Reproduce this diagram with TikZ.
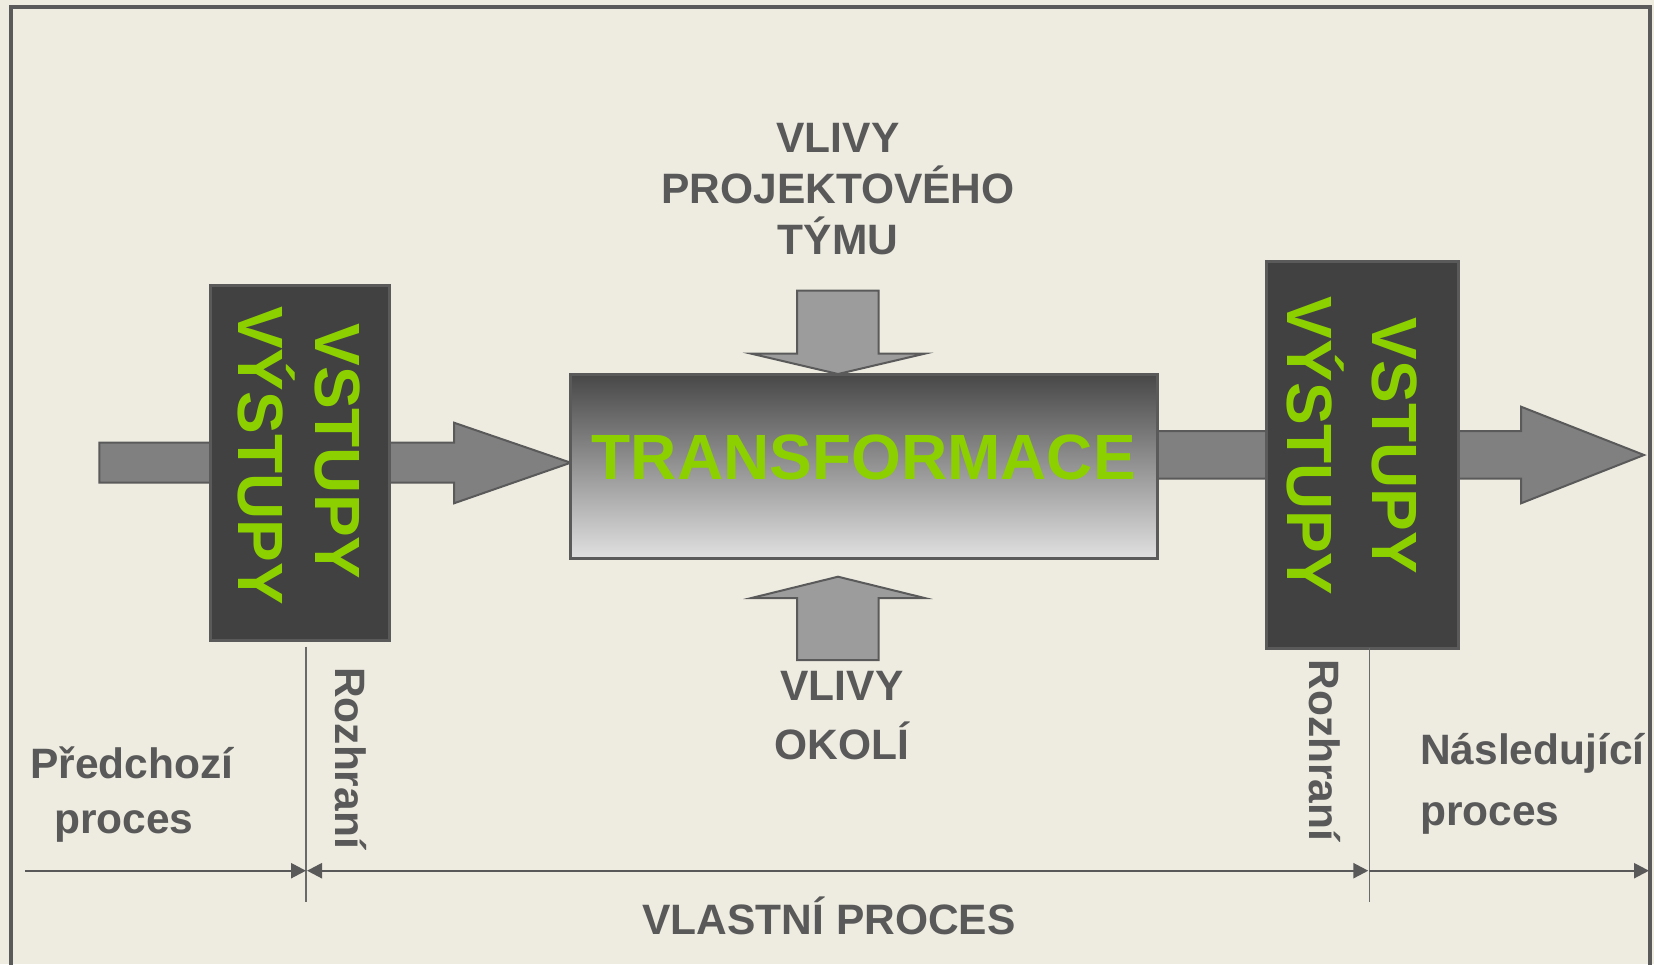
\documentclass[tikz,border=0pt]{standalone}
\usepackage{fontspec}
\setmainfont{Liberation Sans}
\usetikzlibrary{arrows.meta}
\definecolor{paper}{HTML}{EEECE1}
\definecolor{ink}{HTML}{595959}
\definecolor{lime}{HTML}{8CD000}
\definecolor{boxdark}{HTML}{414141}
\definecolor{flowgray}{HTML}{808080}
\definecolor{pushgray}{HTML}{9C9C9C}
\definecolor{edge}{HTML}{5A5A5A}
\definecolor{rule}{HTML}{6A6A6A}

\begin{document}
\begin{tikzpicture}[x=1pt,y=-1pt,
  label/.style={text=ink,inner sep=0pt},
  lbl/.style 2 args={font=\bfseries\fontsize{42.5}{#2}\selectfont},
  portbox/.style={draw=edge,line width=3pt,fill=boxdark,inner sep=0pt},
  porttext/.style={text=lime,inner sep=0pt,rotate=-90,anchor=base,
    font=\bfseries\fontsize{64}{77}\selectfont},
  blockarrow/.style={draw=edge,line width=2pt,line join=miter},
  dimline/.style={draw=ink,line width=2.4pt,
    arrows={-Triangle[length=15pt,width=15pt]}},
  boundary/.style={draw=rule,line width=1.6pt}]

% page and frame
\useasboundingbox (0,0) rectangle (1654,964);
\fill[paper] (0,0) rectangle (1654,964);
\draw[edge,line width=4pt] (11.3,990) -- (11.3,7) -- (1649.7,7) -- (1649.7,990);

% flow arrow into the transformation
\coordinate (inTip) at (570.7,462.7);
\filldraw[blockarrow,fill=flowgray]
  (99.3,442.7) -- (454,442.7) -- (454,422.7) -- (inTip)
  -- (454,503.3) -- (454,482.7) -- (99.3,482.7) -- cycle;

% flow arrow out of the transformation
\coordinate (outTip) at (1644,455);
\filldraw[blockarrow,fill=flowgray]
  (1150,431) -- (1521,431) -- (1521,406.7) -- (outTip)
  -- (1521,503.3) -- (1521,478.7) -- (1150,478.7) -- cycle;

% influence arrows
\coordinate (teamTip) at (838,374);
\filldraw[blockarrow,fill=pushgray]
  (797,290.7) -- (878.7,290.7) -- (878.7,353.7) -- (924.6,353.7) -- (teamTip)
  -- (751.4,353.7) -- (797,353.7) -- cycle;
\coordinate (envTip) at (838,576.7);
\filldraw[blockarrow,fill=pushgray]
  (797,660) -- (878.7,660) -- (878.7,598) -- (924.6,598) -- (envTip)
  -- (751.4,598) -- (797,598) -- cycle;

% boxes
\node[portbox,minimum width=178.3pt,minimum height=355pt] (inbox) at (299.85,463.2) {};
\node[portbox,minimum width=192.7pt,minimum height=386.6pt] (outbox) at (1362.35,455) {};
\node[draw=edge,line width=3pt,top color=black!72,bottom color=black!12,
  middle color=black!42,inner sep=0pt,
  minimum width=586.3pt,minimum height=184.7pt] (trans) at (863.85,466.35) {};
\node[text=lime,inner sep=0pt,anchor=base,
  font=\bfseries\fontsize{64}{77}\selectfont] (transtext) at (863.85,479) {TRANSFORMACE};

% texts in the boxes
\node[porttext] (inA) at (315,451.5) {VSTUPY};
\node[porttext] (inB) at (238,455.5) {VÝSTUPY};
\node[porttext] (outA) at (1372,446) {VSTUPY};
\node[porttext] (outB) at (1287,446) {VÝSTUPY};

% influence labels
\node[label,lbl={}{51},align=center,anchor=north] (team) at (838,123.3)
  {VLIVY\\PROJEKTOVÉHO\\TÝMU};
\node[label,lbl={}{59},align=center,anchor=north] (env) at (842,671.3)
  {VLIVY\\OKOLÍ};

% interfaces and process span
\coordinate (ifLtop) at (306,646.7);
\coordinate (ifLbot) at (306,902.3);
\coordinate (ifRtop) at (1369.3,648);
\coordinate (ifRbot) at (1369.3,902.3);
\draw[boundary] (ifLtop) -- (ifLbot);
\draw[boundary] (ifRtop) -- (ifRbot);

\coordinate (spanStart) at (25,870.7);
\coordinate (spanL) at (306,870.7);
\coordinate (spanR) at (1369.3,870.7);
\coordinate (spanEnd) at (1649,870.7);
\draw[dimline] (spanStart) -- (spanL);
\draw[dimline,arrows={Triangle[length=15pt,width=15pt]-Triangle[length=15pt,width=15pt]}]
  ([xshift=1pt]spanL) -- ([xshift=-1pt]spanR);
\draw[dimline] (spanR) -- (spanEnd);

\node[label,lbl={}{51},rotate=-90,anchor=base] (ifLtext) at (335,758) {Rozhraní};
\node[label,lbl={}{51},rotate=-90,anchor=base] (ifRtext) at (1309,750.4) {Rozhraní};

\node[label,lbl={}{55},align=center,anchor=north] (prev) at (131.9,746.7)
  {Předchozí\\proces\hspace*{16pt}};
\node[label,lbl={}{61},align=left,anchor=north west] (next) at (1420,733.3)
  {Následující\\proces};
\node[label,lbl={}{51},anchor=base] (own) at (829,934) {VLASTNÍ PROCES};
\end{tikzpicture}
\end{document}
